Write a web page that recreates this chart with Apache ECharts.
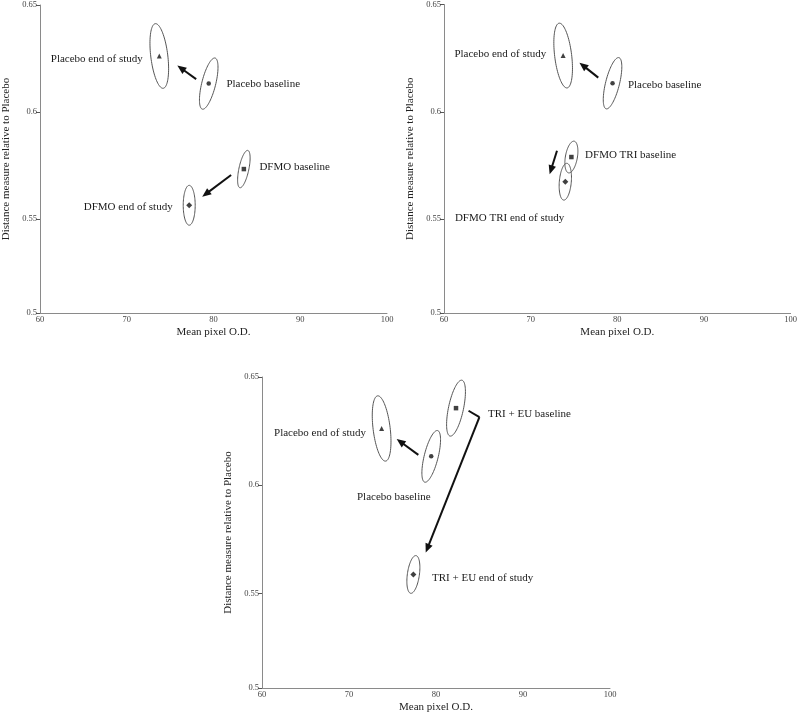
<!DOCTYPE html>
<html>
<head>
<meta charset="utf-8">
<script src="https://cdn.jsdelivr.net/npm/echarts@6/dist/echarts.min.js"></script>
<style>
html,body{margin:0;padding:0;background:#fff;}
#chart{width:800px;height:715px;}
</style>
</head>
<body>
<div id="chart"></div>
<script>
// ---------- DATA ----------
const xTicks = [60, 70, 80, 90, 100];
const yAxisBottom = 0.5062;               // axis start (labelled "0.5" in the figure)
const yTickValues = [yAxisBottom, 0.55, 0.6, 0.65];
const yTickLabels = ['0.5', '0.55', '0.6', '0.65'];

// group means [Mean pixel O.D., distance measure]
const placeboEnd  = [73.75, 0.6262];
const placeboBase = [79.45, 0.6133];
const dfmoBase    = [83.5, 0.5734];
const dfmoEnd     = [77.2, 0.5565];
const dfmoTriBase = [74.7, 0.5789];
const dfmoTriEnd  = [74.0, 0.5674];
const triEuBase   = [82.3, 0.6356];
const triEuEnd    = [77.4, 0.5587];

// confidence ellipses [semi-axis along y (data), semi-axis along x (data), tilt deg]
const ellPlaceboEnd  = [0.0152, 0.98, -7];
const ellPlaceboBase = [0.0123, 0.80, 14];
const ellDfmoBase    = [0.0089, 0.57, 12];
const ellDfmoEnd     = [0.0093, 0.69, 0];
const ellDfmoTriBase = [0.0075, 0.69, 10];
const ellDfmoTriEnd  = [0.0086, 0.69, 5];
const ellTriEuBase   = [0.0132, 0.86, 12];
const ellTriEuEnd    = [0.0088, 0.69, 8];

// arrows [x1, y1, x2, y2, head]
const arrows1 = [[78.0, 0.6154, 75.83, 0.6217, 1], [82.03, 0.5706, 78.7, 0.5605, 1]];
const arrows2 = [[77.8, 0.6159, 75.63, 0.6229, 1], [73.04, 0.5818, 72.19, 0.5709, 1]];
const arrows3 = [[77.97, 0.6140, 75.48, 0.6213, 1], [83.74, 0.6344, 84.99, 0.6314, 0], [84.99, 0.6314, 78.82, 0.5688, 1]];

// labels [text, x, y, align]
const labels1 = [['Placebo end of study', 71.84, 0.6248, 'right'], ['Placebo baseline', 81.49, 0.6131, 'left'],
                 ['DFMO baseline', 85.29, 0.5743, 'left'], ['DFMO end of study', 75.29, 0.5557, 'right']];
const labels2 = [['Placebo end of study', 71.81, 0.6267, 'right'], ['Placebo baseline', 81.22, 0.6123, 'left'],
                 ['DFMO TRI baseline', 76.28, 0.5798, 'left'], ['DFMO TRI end of study', 61.26, 0.5505, 'left']];
const labels3 = [['Placebo end of study', 71.95, 0.6241, 'right'], ['Placebo baseline', 70.92, 0.5946, 'left'],
                 ['TRI + EU baseline', 85.98, 0.6329, 'left'], ['TRI + EU end of study', 79.54, 0.5571, 'left']];

const xTitle = 'Mean pixel O.D.';
const yTitle = 'Distance measure relative to Placebo';

// ---------- CHART ----------
const FONT = '"Liberation Serif", "DejaVu Serif", serif';
const AXIS_COLOR = '#8a8a8a';

const panels = [
  { grid: {left: 39, top: 5, width: 348, height: 308},
    points: [[placeboEnd, 'triangle', 5], [placeboBase, 'circle', 4.5], [dfmoBase, 'rect', 4.5], [dfmoEnd, 'diamond', 6]],
    ellipses: [[placeboEnd, ellPlaceboEnd], [placeboBase, ellPlaceboBase], [dfmoBase, ellDfmoBase], [dfmoEnd, ellDfmoEnd]],
    arrows: arrows1, labels: labels1 },
  { grid: {left: 444, top: 4, width: 349, height: 309},
    points: [[placeboEnd, 'triangle', 5], [placeboBase, 'circle', 4.5], [dfmoTriBase, 'rect', 4.5], [dfmoTriEnd, 'diamond', 6]],
    ellipses: [[placeboEnd, ellPlaceboEnd], [placeboBase, ellPlaceboBase], [dfmoTriBase, ellDfmoTriBase], [dfmoTriEnd, ellDfmoTriEnd]],
    arrows: arrows2, labels: labels2 },
  { grid: {left: 262, top: 377, width: 348, height: 311},
    points: [[placeboEnd, 'triangle', 5], [placeboBase, 'circle', 4.5], [triEuBase, 'rect', 4.5], [triEuEnd, 'diamond', 6]],
    ellipses: [[placeboEnd, ellPlaceboEnd], [placeboBase, ellPlaceboBase], [triEuBase, ellTriEuBase], [triEuEnd, ellTriEuEnd]],
    arrows: arrows3, labels: labels3 }
];

const grids = [], xAxes = [], yAxes = [], series = [];

panels.forEach((p, i) => {
  grids.push(Object.assign({containLabel: false}, p.grid));
  xAxes.push({
    type: 'value', gridIndex: i, min: xTicks[0], max: xTicks[xTicks.length - 1], interval: 10,
    name: xTitle, nameLocation: 'middle', nameGap: 14,
    nameTextStyle: {fontFamily: FONT, fontSize: 11, color: '#222'},
    axisLine: {show: true, lineStyle: {color: AXIS_COLOR, width: 1}},
    axisTick: {show: false},
    axisLabel: {fontFamily: FONT, fontSize: 8.5, color: '#444', margin: 2},
    splitLine: {show: false}
  });
  yAxes.push({
    type: 'value', gridIndex: i, min: yAxisBottom, max: yTickValues[yTickValues.length - 1],
    name: yTitle, nameLocation: 'middle', nameGap: 28,
    nameTextStyle: {fontFamily: FONT, fontSize: 11, color: '#222'},
    axisLine: {show: true, onZero: false, lineStyle: {color: AXIS_COLOR, width: 1}},
    axisTick: {show: true, length: 4, customValues: yTickValues, lineStyle: {color: '#555'}},
    axisLabel: {fontFamily: FONT, fontSize: 8.5, color: '#444', margin: 3, customValues: yTickValues,
      formatter: v => {
        let best = 0;
        yTickValues.forEach((t, k) => { if (Math.abs(t - v) < Math.abs(yTickValues[best] - v)) best = k; });
        return yTickLabels[best];
      }},
    splitLine: {show: false}
  });

  // ellipses
  const ellData = p.ellipses.map(e => [e[0][0], e[0][1], e[1][0], e[1][1], e[1][2]]);
  series.push({
    type: 'custom', xAxisIndex: i, yAxisIndex: i, data: ellData, encode: {x: 0, y: 1}, silent: true, clip: false,
    renderItem: (params, api) => {
      const c = api.coord([api.value(0), api.value(1)]);
      const ay = api.size([0, api.value(2)])[1];
      const bx = api.size([api.value(3), 0])[0];
      const t = api.value(4) * Math.PI / 180;
      const pts = [];
      for (let k = 0; k < 90; k++) {
        const th = 2 * Math.PI * k / 90;
        const x = bx * Math.cos(th), y = ay * Math.sin(th);
        pts.push([c[0] + x * Math.cos(t) - y * Math.sin(t), c[1] + x * Math.sin(t) + y * Math.cos(t)]);
      }
      return {type: 'polygon', shape: {points: pts}, style: {fill: 'none', stroke: '#555', lineWidth: 1}};
    }
  });

  // arrows
  series.push({
    type: 'custom', xAxisIndex: i, yAxisIndex: i, data: p.arrows, encode: {x: [0, 2], y: [1, 3]}, silent: true, clip: false,
    renderItem: (params, api) => {
      const a = api.coord([api.value(0), api.value(1)]);
      const b = api.coord([api.value(2), api.value(3)]);
      const head = api.value(4);
      const dx = b[0] - a[0], dy = b[1] - a[1];
      const len = Math.sqrt(dx * dx + dy * dy);
      const ux = dx / len, uy = dy / len;
      const hl = 9, hw = 3.8;
      const children = [];
      const end = head ? [b[0] - ux * (hl - 1), b[1] - uy * (hl - 1)] : b;
      children.push({type: 'line', shape: {x1: a[0], y1: a[1], x2: end[0], y2: end[1]},
        style: {stroke: '#111', lineWidth: 2}});
      if (head) {
        const bx0 = b[0] - ux * hl, by0 = b[1] - uy * hl;
        children.push({type: 'polygon', shape: {points: [[b[0], b[1]], [bx0 - uy * hw, by0 + ux * hw], [bx0 + uy * hw, by0 - ux * hw]]},
          style: {fill: '#111'}});
      }
      return {type: 'group', children: children};
    }
  });

  // markers
  p.points.forEach(pt => {
    series.push({
      type: 'scatter', xAxisIndex: i, yAxisIndex: i, data: [pt[0]], symbol: pt[1], symbolSize: pt[2],
      itemStyle: {color: '#111'}, silent: true, z: 5
    });
  });

  // labels
  const lbl = p.labels;
  series.push({
    type: 'custom', xAxisIndex: i, yAxisIndex: i, data: lbl.map(l => [l[1], l[2]]), encode: {x: 0, y: 1}, silent: true, clip: false,
    renderItem: (params, api) => {
      const l = lbl[params.dataIndex];
      const c = api.coord([api.value(0), api.value(1)]);
      return {type: 'text', x: c[0], y: c[1],
        style: {text: l[0], textAlign: l[3], textVerticalAlign: 'middle', font: '11px ' + FONT, fill: '#1a1a1a'}};
    }
  });
});

const chart = echarts.init(document.getElementById('chart'), null, {renderer: 'canvas'});
chart.setOption({
  animation: false,
  backgroundColor: '#fff',
  grid: grids, xAxis: xAxes, yAxis: yAxes, series: series
});
</script>
</body>
</html>
